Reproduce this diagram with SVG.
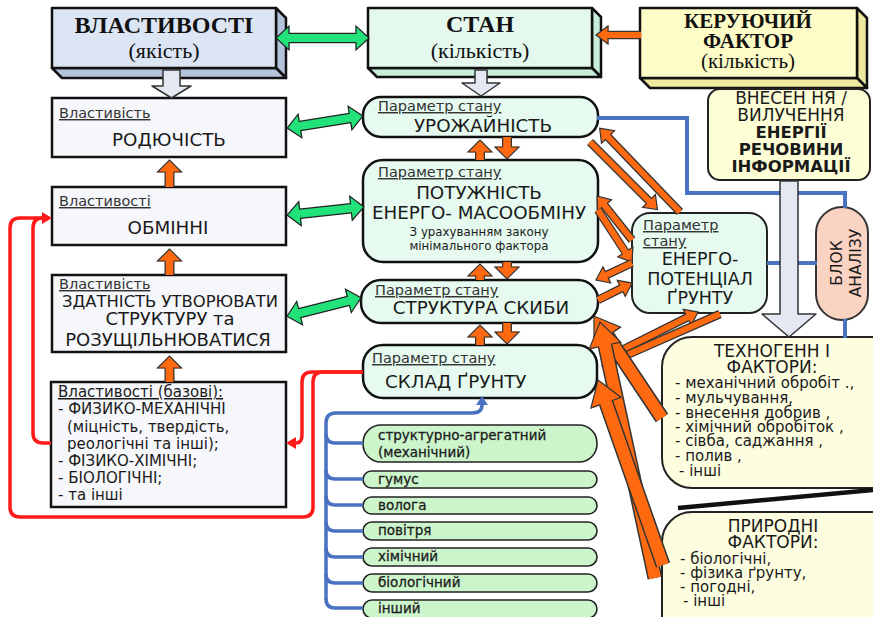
<svg xmlns="http://www.w3.org/2000/svg" width="873" height="617" viewBox="0 0 873 617">
<style>
.s{font-family:"DejaVu Sans","Liberation Sans",sans-serif;fill:#1a1a1a}
.t{font-family:"Liberation Serif","Times New Roman",serif;fill:#111}
.lbl{font-size:14.5px;text-decoration:underline;fill:#333}
.big{font-size:18.3px}
.m{text-anchor:middle}
.b{font-weight:bold}
.li{font-size:15px}
.box{fill:#f6f7fb;stroke:#111;stroke-width:2.5}
.mid{fill:#e6faf0;stroke:#111;stroke-width:2.5}
.pill{fill:#ccf5cc;stroke:#222;stroke-width:1.6}
.ptx{font-size:13.5px;stroke:#222;stroke-width:0.3}
.yel{fill:#fdfde0;stroke:#222;stroke-width:2}
.edge{stroke:#111;stroke-width:2.5;stroke-linejoin:round}
.oo8{fill:none;stroke:#333;stroke-width:8.5}
.oi6{fill:none;stroke:#ff6a10;stroke-width:6}
.oo10{fill:none;stroke:#333;stroke-width:10}
.oi7{fill:none;stroke:#ff6a10;stroke-width:7.5}
.oo15{fill:none;stroke:#333;stroke-width:15}
.oi12{fill:none;stroke:#ff6a10;stroke-width:12}
.go{fill:none;stroke:#222;stroke-width:10.5}
.gi{fill:none;stroke:#22e37a;stroke-width:8}
.red{fill:none;stroke:#ff1a1a;stroke-width:3.5;stroke-linejoin:round}
.blue{fill:none;stroke:#4a72c2;stroke-width:4}
.bt{fill:none;stroke:#4a72c2;stroke-width:3.5}
.la{fill:#e3e8f3;stroke:#333;stroke-width:1.5;stroke-linejoin:round}
</style>
<defs>
<marker id="ohs" markerUnits="userSpaceOnUse" orient="auto-start-reverse" overflow="visible" markerWidth="30" markerHeight="30" refX="0" refY="0">
<path d="M-0.5,-9 L12,0 L-0.5,9 Z" fill="#ff6a10"/>
<path d="M0,-3 V-9 L12,0 L0,9 V3" fill="none" stroke="#333" stroke-width="1.2"/>
</marker>
<marker id="ohm" markerUnits="userSpaceOnUse" orient="auto-start-reverse" overflow="visible" markerWidth="30" markerHeight="30" refX="0" refY="0">
<path d="M-0.5,-12 L12,0 L-0.5,12 Z" fill="#ff6a10"/>
<path d="M0,-3.75 V-12 L12,0 L0,12 V3.75" fill="none" stroke="#333" stroke-width="1.2"/>
</marker>
<marker id="ohb" markerUnits="userSpaceOnUse" orient="auto-start-reverse" overflow="visible" markerWidth="40" markerHeight="40" refX="0" refY="0">
<path d="M-0.5,-16 L24,0 L-0.5,16 Z" fill="#ff6a10"/>
<path d="M0,-6 V-16 L24,0 L0,16 V6" fill="none" stroke="#333" stroke-width="1.2"/>
</marker>
<marker id="gh" markerUnits="userSpaceOnUse" orient="auto-start-reverse" overflow="visible" markerWidth="30" markerHeight="30" refX="0" refY="0">
<path d="M-0.5,-12 L13,0 L-0.5,12 Z" fill="#22e37a"/>
<path d="M0,-4 V-12 L13,0 L0,12 V4" fill="none" stroke="#222" stroke-width="1.2"/>
</marker>
<marker id="rh" markerUnits="userSpaceOnUse" orient="auto" overflow="visible" markerWidth="20" markerHeight="20" refX="0" refY="0">
<path d="M0,-6 L10,0 L0,6 Z" fill="#ff1a1a"/>
</marker>
<marker id="bh" markerUnits="userSpaceOnUse" orient="auto" overflow="visible" markerWidth="20" markerHeight="20" refX="0" refY="0">
<path d="M0,-6 L9,0 L0,6 Z" fill="#4a72c2"/>
</marker>
</defs>

<rect width="873" height="617" fill="#fff"/>

<g id="nodes">
<g id="vlastyvosti">
<polygon class="edge" points="276,8 286,18 286,78 276,68" fill="#b4c3dc"/>
<polygon class="edge" points="52,68 276,68 286,78 62,78" fill="#b4c3dc"/>
<rect class="edge" x="52" y="8" width="224" height="60" fill="#dce5f3"/>
<text class="t b m" x="164" y="33" font-size="24">ВЛАСТИВОСТІ</text>
<text class="t m" x="164" y="58" font-size="22">(якість)</text>
</g>
<g id="stan">
<polygon class="edge" points="592,8 601,17 601,77 592,68" fill="#c6eed9"/>
<polygon class="edge" points="368,68 592,68 601,77 377,77" fill="#c6eed9"/>
<rect class="edge" x="368" y="8" width="224" height="60" fill="#e4f8ee"/>
<text class="t b m" x="480" y="32" font-size="24">СТАН</text>
<text class="t m" x="480" y="58" font-size="22">(кількість)</text>
</g>
<g id="keruyuchyi">
<polygon class="edge" points="857,8 867,18 867,88 857,78" fill="#efe9a0"/>
<polygon class="edge" points="640,78 857,78 867,88 650,88" fill="#efe9a0"/>
<rect class="edge" x="640" y="8" width="217" height="70" fill="#fdfbc6"/>
<text class="t b m" x="748" y="28" font-size="21">КЕРУЮЧИЙ</text>
<text class="t b m" x="748" y="48" font-size="21">ФАКТОР</text>
<text class="t m" x="748" y="68" font-size="21">(кількість)</text>
</g>

<g id="rodyuchist">
<rect class="box" x="52" y="98" width="234" height="59"/>
<text class="s lbl" x="59" y="118">Властивість</text>
<text class="s big m" x="169" y="146">РОДЮЧІСТЬ</text>
</g>
<g id="obminni">
<rect class="box" x="52" y="187" width="234" height="58"/>
<text class="s lbl" x="59" y="206">Властивості</text>
<text class="s big m" x="168" y="234">ОБМІННІ</text>
</g>
<g id="zdatnist">
<rect class="box" x="52" y="275" width="234" height="77"/>
<text class="s lbl" x="59" y="289">Властивість</text>
<text class="s m" x="170" y="307" font-size="16.4">ЗДАТНІСТЬ УТВОРЮВАТИ</text>
<text class="s m" x="170" y="325" font-size="18">СТРУКТУРУ та</text>
<text class="s m" x="168" y="346" font-size="18">РОЗУЩІЛЬНЮВАТИСЯ</text>
</g>
<g id="bazovi">
<rect class="box" x="51" y="382" width="235" height="125"/>
<text class="s" font-size="15" x="58" y="397" text-decoration="underline" fill="#333">Властивості (базові):</text>
<text class="s" font-size="15" x="58" y="414">- ФИЗИКО-МЕХАНІЧНІ</text>
<text class="s" font-size="15" x="67" y="432">(міцність, твердість,</text>
<text class="s" font-size="15" x="67" y="449">реологічні та інші);</text>
<text class="s" font-size="15" x="58" y="466">- ФІЗИКО-ХІМІЧНІ;</text>
<text class="s" font-size="15" x="58" y="483">- БІОЛОГІЧНІ;</text>
<text class="s" font-size="15" x="58" y="500">- та інші</text>
</g>

<g id="urozhainist">
<rect class="mid" x="363" y="97" width="235" height="40" rx="18"/>
<text class="s lbl" x="378" y="111">Параметр стану</text>
<text class="s big m" x="483" y="132">УРОЖАЙНІСТЬ</text>
</g>
<g id="potuzhnist">
<rect class="mid" x="363" y="160" width="235" height="102" rx="20"/>
<text class="s lbl" x="378" y="177">Параметр стану</text>
<text class="s big m" x="479" y="199">ПОТУЖНІСТЬ</text>
<text class="s big m" x="479" y="219">ЕНЕРГО- МАСООБМІНУ</text>
<text class="s m" x="479" y="236" font-size="11.8">З урахуванням закону</text>
<text class="s m" x="479" y="250" font-size="11.8">мінімального фактора</text>
</g>
<g id="struktura">
<rect class="mid" x="361" y="280" width="237" height="43" rx="20"/>
<text class="s lbl" x="375" y="295">Параметр стану</text>
<text class="s big m" x="481" y="314">СТРУКТУРА СКИБИ</text>
</g>
<g id="sklad">
<rect class="mid" x="363" y="345" width="234" height="53" rx="20"/>
<text class="s lbl" x="372" y="363">Параметр стану</text>
<text class="s big" x="385" y="388">СКЛАД ҐРУНТУ</text>
</g>

<g id="p-struktur">
<rect class="pill" x="363" y="425" width="234" height="37" rx="18"/>
<text class="s ptx" x="378" y="440">структурно-агрегатний</text>
<text class="s ptx" x="378" y="457">(механічний)</text>
</g>
<g id="p-humus"><rect class="pill" x="363" y="471" width="234" height="17" rx="8.5"/><text class="s ptx" x="378" y="484">гумус</text></g>
<g id="p-voloha"><rect class="pill" x="363" y="497" width="234" height="17" rx="8.5"/><text class="s ptx" x="378" y="510">волога</text></g>
<g id="p-povitria"><rect class="pill" x="363" y="522" width="234" height="18" rx="9"/><text class="s ptx" x="378" y="535">повітря</text></g>
<g id="p-khimichnyi"><rect class="pill" x="363" y="548" width="234" height="18" rx="9"/><text class="s ptx" x="378" y="561">хімічний</text></g>
<g id="p-biolohichnyi"><rect class="pill" x="363" y="574" width="234" height="18" rx="9"/><text class="s ptx" x="378" y="587">біологічний</text></g>
<g id="p-inshyi"><rect class="pill" x="363" y="600" width="234" height="18" rx="9"/><text class="s ptx" x="378" y="613">інший</text></g>

<g id="vnesennia">
<rect x="708" y="89" width="162" height="91" rx="12" fill="#fefed6" stroke="#222" stroke-width="2"/>
<text class="s m" x="791" y="104" font-size="17">ВНЕСЕН НЯ /</text>
<text class="s m" x="791" y="121" font-size="17">ВИЛУЧЕННЯ</text>
<text class="s m b" x="791" y="138" font-size="16.5">ЕНЕРГІЇ</text>
<text class="s m b" x="791" y="155" font-size="16.5">РЕЧОВИНИ</text>
<text class="s m b" x="791" y="172" font-size="16.5">ІНФОРМАЦІЇ</text>
</g>
<g id="enerhopotentsial">
<rect x="632" y="213" width="135" height="100" rx="18" fill="#e6faf0" stroke="#222" stroke-width="2"/>
<text class="s lbl" x="643" y="230">Параметр</text>
<text class="s lbl" x="643" y="246">стану</text>
<text class="s m" x="700" y="265" font-size="17.5">ЕНЕРГО-</text>
<text class="s m" x="700" y="285" font-size="17.5">ПОТЕНЦІАЛ</text>
<text class="s m" x="700" y="304" font-size="17.5">ҐРУНТУ</text>
</g>
<g id="blok-analizu">
<rect x="816" y="207" width="52" height="113" rx="26" fill="#fbd3c2" stroke="#333" stroke-width="2"/>
<text class="s m" font-size="15.5" transform="translate(842,263) rotate(-90)">БЛОК</text>
<text class="s m" font-size="15.5" transform="translate(861,263) rotate(-90)">АНАЛІЗУ</text>
</g>
<g id="tekhnohenni">
<rect class="yel" x="662" y="337" width="240" height="151" rx="30"/>
<text class="s m" x="772" y="357" font-size="17">ТЕХНОГЕНН І</text>
<text class="s m" x="772" y="373" font-size="17">ФАКТОРИ:</text>
<text class="s li" x="675" y="388">- механічний обробіт .,</text>
<text class="s li" x="675" y="403">- мульчування,</text>
<text class="s li" x="675" y="418">- внесення добрив ,</text>
<text class="s li" x="675" y="432">- хімічний обробіток ,</text>
<text class="s li" x="675" y="446">- сівба, саджання ,</text>
<text class="s li" x="675" y="461">- полив ,</text>
<text class="s li" x="679" y="476">- інші</text>
</g>
<g id="pryrodni">
<rect class="yel" x="662" y="512" width="240" height="140" rx="30"/>
<text class="s m" x="773" y="532" font-size="17">ПРИРОДНІ</text>
<text class="s m" x="773" y="548" font-size="17">ФАКТОРИ:</text>
<text class="s li" x="680" y="564">- біологічні,</text>
<text class="s li" x="680" y="578">- фізика ґрунту,</text>
<text class="s li" x="680" y="592">- погодні,</text>
<text class="s li" x="683" y="606">- інші</text>
</g>
</g>

<g id="connectors">
<line x1="678" y1="508" x2="873" y2="490" stroke="#111" stroke-width="4.5"/>
<path class="blue" d="M597,118 H687 V193 H845 V208"/>
<path class="blue" d="M767,263 H817"/>
<path class="blue" d="M845,319 V338"/>
<path class="bt" d="M326,600 V423 Q326,413 336,413 H472 Q482,413 482,405" marker-end="url(#bh)"/>
<path class="bt" d="M326,434 Q326,443 335,443 H363 M326,470 Q326,479 335,479 H363 M326,496 Q326,505 335,505 H363 M326,522 Q326,531 335,531 H363 M326,548 Q326,557 335,557 H363 M326,574 Q326,583 335,583 H363 M326,599 Q326,608 335,608 H363"/>
<polygon class="la" points="163,70 180,70 180,86 191,86 171.5,98 152,86 163,86"/>
<polygon class="la" points="475,70 487,70 487,83 500,83 481,96 462,83 475,83"/>
<polygon class="la" points="780,181 798,181 798,314 816,314 789,337 762,314 780,314"/>
<path class="red" d="M363,372 H312 Q302,372 302,382 V435 Q302,443 296,443" marker-end="url(#rh)"/>
<path class="red" d="M363,372 H323 Q313,372 313,382 V507 Q313,517 303,517 H20 Q10,517 10,507 V228 Q10,218 20,218 H42" marker-end="url(#rh)"/>
<path class="red" d="M51,443 H43 Q33,443 33,433 V228 Q33,218 43,218"/>
<path class="go" d="M289,38 H356"/><path class="gi" d="M289,38 H356" marker-start="url(#gh)" marker-end="url(#gh)"/>
<path class="go" d="M300,126 L350,118"/><path class="gi" d="M300,126 L350,118" marker-start="url(#gh)" marker-end="url(#gh)"/>
<path class="go" d="M300,213.7 L351,208.3"/><path class="gi" d="M300,213.7 L351,208.3" marker-start="url(#gh)" marker-end="url(#gh)"/>
<path class="go" d="M299.6,313.1 L348.4,300.9"/><path class="gi" d="M299.6,313.1 L348.4,300.9" marker-start="url(#gh)" marker-end="url(#gh)"/>
<path class="oo8" d="M641,35 H608"/><path class="oi6" d="M641,35 H608" marker-end="url(#ohs)"/>
<path class="oo10" d="M169.5,187 V172 M169.5,275 V261 M169.5,382 V368"/>
<path class="oi7" d="M169.5,187 V172" marker-end="url(#ohm)"/>
<path class="oi7" d="M169.5,275 V261" marker-end="url(#ohm)"/>
<path class="oi7" d="M169.5,382 V368" marker-end="url(#ohm)"/>
<path class="oo10" d="M480,160 V152 M480,280 V276 M480,345 V337 M507,137 V147 M507,262 V267 M507,323 V332"/>
<path class="oi7" d="M480,160 V152" marker-end="url(#ohm)"/>
<path class="oi7" d="M480,280 V276" marker-end="url(#ohm)"/>
<path class="oi7" d="M480,345 V337" marker-end="url(#ohm)"/>
<path class="oi7" d="M507,137 V147" marker-end="url(#ohm)"/>
<path class="oi7" d="M507,262 V267" marker-end="url(#ohm)"/>
<path class="oi7" d="M507,323 V332" marker-end="url(#ohm)"/>
<path class="oo8" d="M680,212 L608,137"/><path class="oi6" d="M680,212 L608,137" marker-end="url(#ohs)"/>
<path class="oo8" d="M590,142 L649,201"/><path class="oi6" d="M590,142 L649,201" marker-end="url(#ohs)"/>
<path class="oo8" d="M632,240 L604.5,205.4"/><path class="oi6" d="M632,240 L604.5,205.4" marker-end="url(#ohs)"/>
<path class="oo8" d="M598,210 L625.4,252"/><path class="oi6" d="M598,210 L625.4,252" marker-end="url(#ohs)"/>
<path class="oo8" d="M632,263 L606.8,274.9"/><path class="oi6" d="M632,263 L606.8,274.9" marker-end="url(#ohs)"/>
<path class="oo8" d="M598,300 L621.3,288.4"/><path class="oi6" d="M598,300 L621.3,288.4" marker-end="url(#ohs)"/>
<path class="oo8" d="M610,356 L687.3,317.4"/><path class="oi6" d="M610,356 L687.3,317.4" marker-end="url(#ohs)"/>
<path class="oo8" d="M720,314 L613,361.2"/><path class="oi6" d="M720,314 L613,361.2" marker-end="url(#ohs)"/>
<path class="oo15" d="M662,418 L607.3,336"/><path class="oi12" d="M662,418 L607.3,336" marker-end="url(#ohb)"/>
<path class="oo15" d="M655,578 L605,345.5"/><path class="oi12" d="M655,578 L605,345.5" marker-end="url(#ohb)"/>
<path class="oo15" d="M663,565 L606,402.7"/><path class="oi12" d="M663,565 L606,402.7" marker-end="url(#ohb)"/>
</g>
</svg>
